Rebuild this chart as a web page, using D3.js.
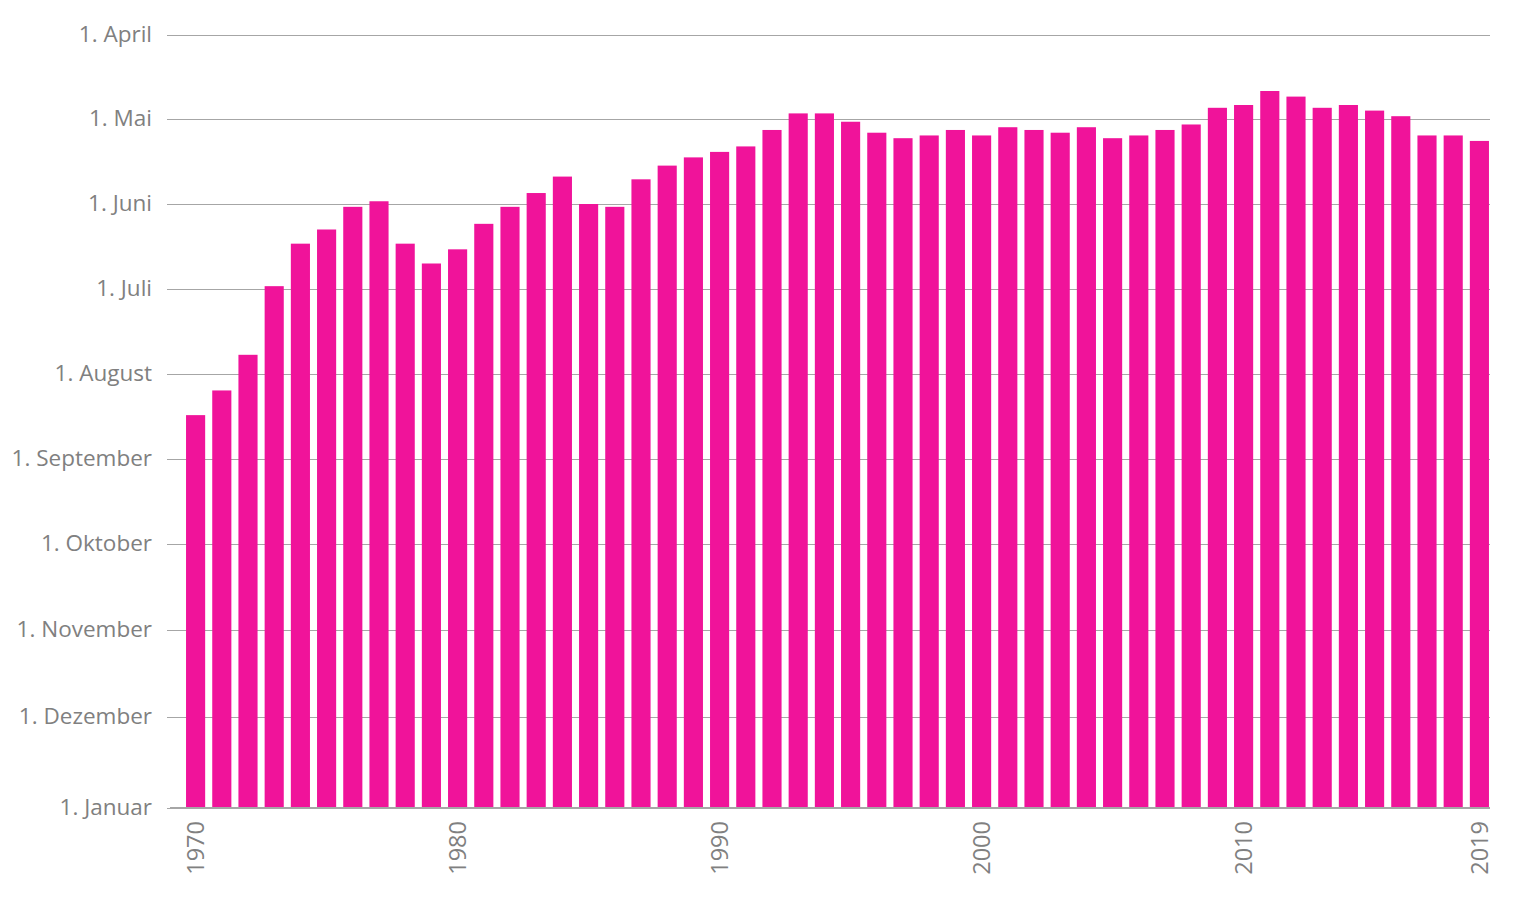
<!DOCTYPE html>
<html><head><meta charset="utf-8">
<script src="https://cdn.jsdelivr.net/npm/d3@7"></script>
<style>body{margin:0;background:#fff}text{font-family:"Open Sans",sans-serif}</style>
</head><body><svg id="c" width="1536" height="901"></svg>
<script>
const years = [1970,1971,1972,1973,1974,1975,1976,1977,1978,1979,
  1980,1981,1982,1983,1984,1985,1986,1987,1988,1989,
  1990,1991,1992,1993,1994,1995,1996,1997,1998,1999,
  2000,2001,2002,2003,2004,2005,2006,2007,2008,2009,
  2010,2011,2012,2013,2014,2015,2016,2017,2018,2019];
// overshoot day per year (month-day)
const overshootDates = ["08-16","08-07","07-25","06-30","06-15","06-10","06-02","05-31","06-15","06-22",
  "06-17","06-08","06-02","05-28","05-22","06-01","06-02","05-23","05-18","05-15",
  "05-13","05-11","05-05","04-29","04-29","05-02","05-06","05-08","05-07","05-05",
  "05-07","05-04","05-05","05-06","05-04","05-08","05-07","05-05","05-03","04-27",
  "04-26","04-21","04-23","04-27","04-26","04-28","04-30","05-07","05-07","05-09"];
const tickDates = ["2001-04-01","2001-05-01","2001-06-01","2001-07-01","2001-08-01","2001-09-01","2001-10-01","2001-11-01","2001-12-01","2002-01-01"];
const tickLabels = ["1. April","1. Mai","1. Juni","1. Juli","1. August","1. September","1. Oktober","1. November","1. Dezember","1. Januar"];
const yearTicks = [1970,1980,1990,2000,2010,2019];

const parse = d3.timeParse("%Y-%m-%d");
const tickDT = tickDates.map(parse);
const data = years.map((yr,i)=>({year:yr, date:parse("2001-"+overshootDates[i])}));

const svg = d3.select("#c");
const y = d3.scaleTime().domain(tickDT).range([35,119,204,289,374,459,544,630,717,808]);
const x = d3.scaleBand().domain(years).range([182.5,1492.5]).paddingInner(0.27).paddingOuter(0.135);

const gridLeft = 167, gridRight = 1490;
const yAxis = d3.axisLeft(y).tickValues(tickDT).tickFormat((d,i)=>tickLabels[i])
  .tickSizeInner(-(gridRight-gridLeft)).tickSizeOuter(0).tickPadding(15);
const gy = svg.append("g").attr("transform",`translate(${gridLeft},0)`).call(yAxis);
gy.select(".domain").remove();
gy.selectAll(".tick line").attr("stroke","#a6a6a6").attr("stroke-width",1);
gy.selectAll(".tick text").attr("fill","#808080").attr("dy","0.28em").style("font-size","22.5px").attr("font-family",null);

svg.append("g").selectAll("rect").data(data).join("rect")
  .attr("x",d=>x(d.year)).attr("width",x.bandwidth())
  .attr("y",d=>y(d.date)).attr("height",d=>y(tickDT[tickDT.length-1])-y(d.date))
  .attr("fill","#f0139a");

const base = y(tickDT[tickDT.length-1]);
svg.append("line").attr("x1",170).attr("x2",gridRight).attr("y1",base).attr("y2",base)
  .attr("stroke","#a6a6a6").attr("stroke-width",2);

const gx = svg.append("g");
gx.selectAll("text").data(yearTicks).join("text")
  .attr("transform",d=>`translate(${x(d)+x.bandwidth()/2},${base+13}) rotate(-90)`)
  .attr("text-anchor","end").attr("dy","0.36em")
  .attr("fill","#808080").style("font-size","23.5px")
  .text(d=>d);
</script></body></html>
